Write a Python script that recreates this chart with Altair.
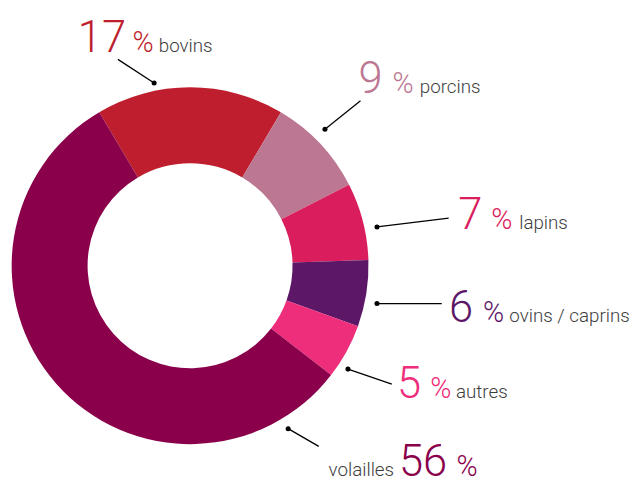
import math
import altair as alt
import pandas as pd

# ---- data ----
categories = ["bovins", "porcins", "lapins", "ovins / caprins", "autres", "volailles"]
shares = [17, 9, 7, 6, 5, 56]
number_labels = ["17", "9", "7", "6", "5", "56"]
colors = ["#BE1E2D", "#BC7893", "#DA1D5C", "#5D1767", "#EE2D7B", "#8A004B"]

# ---- layout (page pixels) ----
MARGIN = 8
W, H = 635, 473
CENTER = (192.4, 266.0)
R_OUT, R_IN = 180.7, 103.8
START_DEG = -30.6

num_x = [80.7, 365, 466, 456.7, 404, 406]
pct_x = [135, 398.3, 498.3, 490, 436.7, 463.3]
name_x = [161.7, 426, 526.7, 516.7, 462.7, 398.5]   # volailles: right edge
name_align = ["left", "left", "left", "left", "left", "right"]
base_y = [50, 90.7, 228.3, 323.3, 400, 479]
dot_xy = [(156, 81), (329, 127.7), (381.7, 226.7), (381.7, 304.3), (352.3, 370.7), (291.7, 431)]
end_xy = [(119.3, 57), (365, 99), (454.3, 217.7), (447.3, 304.3), (396.7, 386), (322.7, 449)]

def c(v):
    return v - MARGIN

rows = []
for i, cat in enumerate(categories):
    rows.append({
        "cat": cat, "share": shares[i], "idx": i, "num": number_labels[i],
        "nx": c(num_x[i]) - 2, "px": c(pct_x[i]) - 1,
        "mx": c(name_x[i]) + (-1 if name_align[i] == "left" else 0.5),
        "al": name_align[i], "by": c(base_y[i]),
        "dx": c(dot_xy[i][0]), "dy": c(dot_xy[i][1]),
        "ex": c(end_xy[i][0]), "ey": c(end_xy[i][1]),
    })
df = pd.DataFrame(rows)

xs = alt.Scale(domain=[0, W], range=[0, W])
ys = alt.Scale(domain=[0, H], range=[0, H])
col = alt.Color("cat:N", scale=alt.Scale(domain=categories, range=colors), legend=None)

s = math.radians(START_DEG)
arc = alt.Chart(df).mark_arc(innerRadius=R_IN, outerRadius=R_OUT).encode(
    theta=alt.Theta("share:Q", stack=True, scale=alt.Scale(range=[s, s + 2 * math.pi])),
    order=alt.Order("idx:Q"),
    color=col,
    x=alt.value(c(CENTER[0])),
    y=alt.value(c(CENTER[1])),
)

rules = alt.Chart(df).mark_rule(color="#000000", strokeWidth=1.3).encode(
    x=alt.X("dx:Q", scale=xs, axis=None),
    y=alt.Y("dy:Q", scale=ys, axis=None),
    x2="ex:Q",
    y2="ey:Q",
)

dots = alt.Chart(df).mark_circle(color="#000000", opacity=1, size=26).encode(
    x=alt.X("dx:Q", scale=xs, axis=None),
    y=alt.Y("dy:Q", scale=ys, axis=None),
)

nums = alt.Chart(df).mark_text(
    align="left", baseline="alphabetic", font="Roboto", fontWeight=300, fontSize=44
).encode(
    x=alt.X("nx:Q", scale=xs, axis=None),
    y=alt.Y("by:Q", scale=ys, axis=None),
    text="num:N",
    color=col,
)

pcts = alt.Chart(df).mark_text(
    align="left", baseline="alphabetic", font="Roboto", fontWeight=300, fontSize=29
).encode(
    x=alt.X("px:Q", scale=xs, axis=None),
    y=alt.Y("by:Q", scale=ys, axis=None),
    text=alt.value("%"),
    color=col,
)

def name_layer(align):
    return alt.Chart(df).transform_filter(alt.datum.al == align).mark_text(
        align=align, baseline="alphabetic", font="Roboto", fontWeight=300, fontSize=19, color="#3d3d3d"
    ).encode(
        x=alt.X("mx:Q", scale=xs, axis=None),
        y=alt.Y("by:Q", scale=ys, axis=None),
        text="cat:N",
    )

chart = alt.layer(arc, rules, dots, nums, pcts, name_layer("left"), name_layer("right")).properties(
    width=W, height=H, padding=0, background="white",
    autosize=alt.AutoSizeParams(type="none")
).configure_view(stroke=None)

chart.save("out.html", embed_options={"renderer": "svg", "actions": False})
